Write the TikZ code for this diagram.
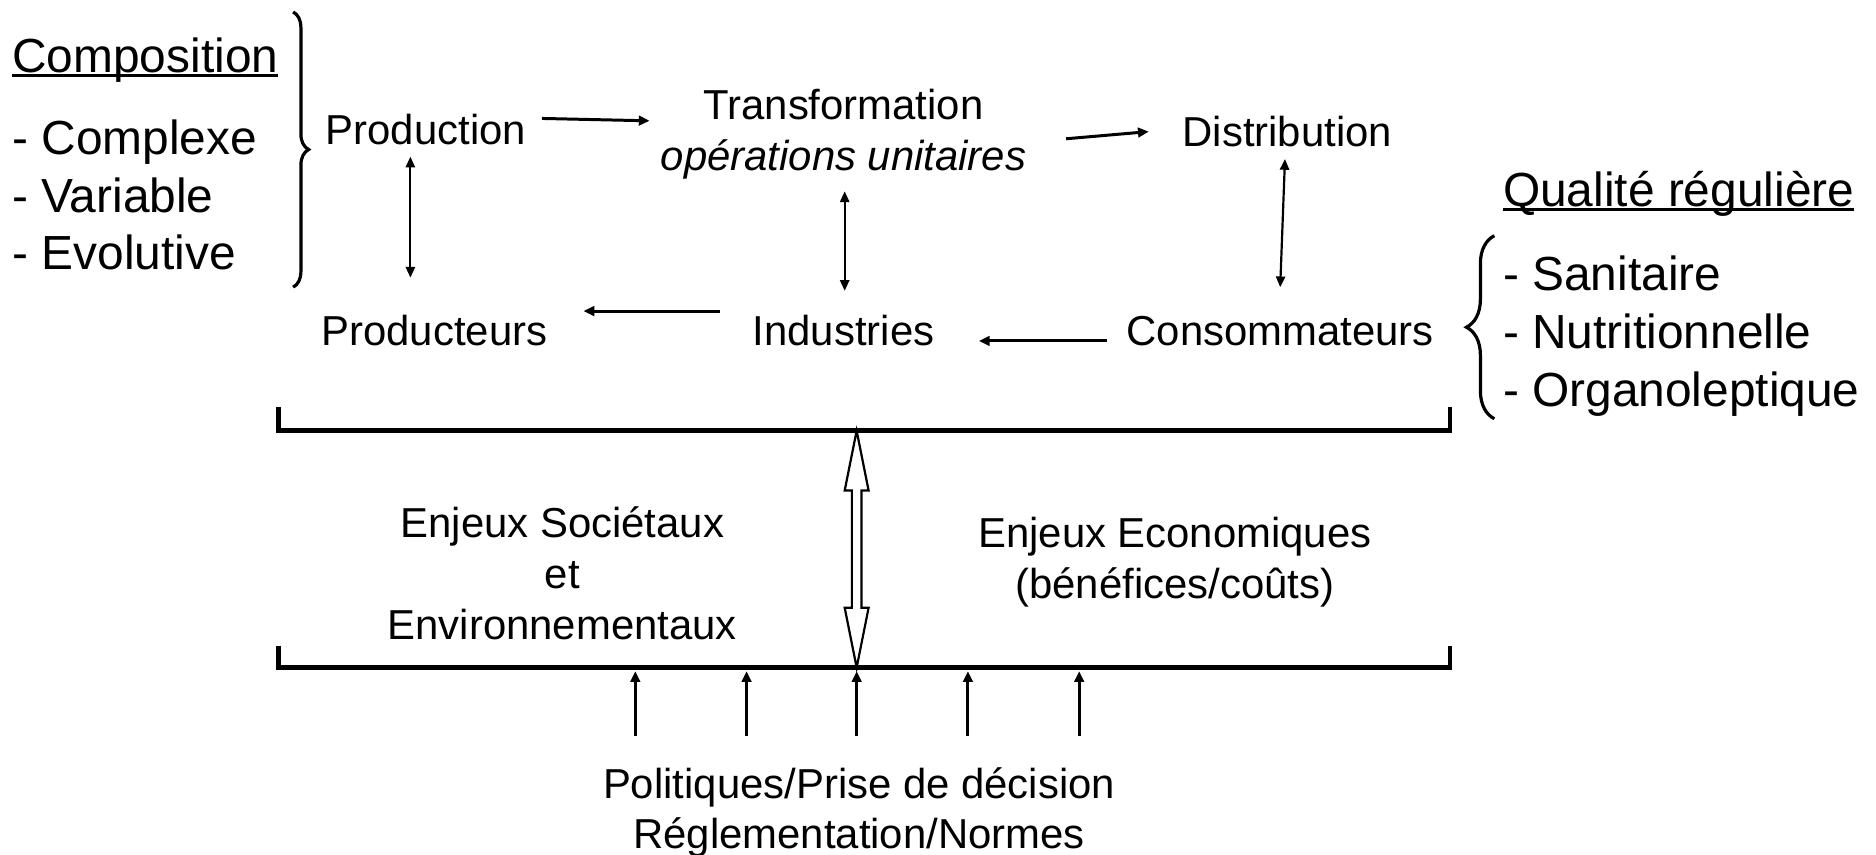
\documentclass[tikz,border=0pt]{standalone}
\usepackage{fontspec}
\setmainfont{Liberation Sans}
\usetikzlibrary{positioning,arrows.meta,calc,decorations.pathreplacing}

\newsavebox\soulbox
\newcommand{\souligne}[1]{\sbox\soulbox{#1}\rlap{\rule[-0.1em]{\wd\soulbox}{0.06em}}\usebox\soulbox}

\begin{document}
\begin{tikzpicture}[x=0.6pt, y=-0.6pt,
        lbl/.style={font=\fontsize{21}{25.5}\selectfont, inner sep=0pt, text height=15.1pt, text depth=0pt},
        bloc/.style={font=\fontsize{21}{25.5}\selectfont, inner sep=0pt, align=center},
        titre/.style={font=\fontsize{24}{29}\selectfont, inner sep=0pt, text height=17.3pt, text depth=0pt, anchor=west},
        liste/.style={font=\fontsize{24}{29}\selectfont, inner sep=0pt, align=left, anchor=west},
        flow/.style={-{Triangle[length=5.4pt,width=4.8pt]}, line width=1.5pt},
        both/.style={{Triangle[length=5.4pt,width=4.6pt]}-{Triangle[length=5.4pt,width=4.6pt]}, line width=1.1pt},
        bar/.style={line width=2.4pt},
        accolade/.style={decorate, line width=1.6pt}
    ]
    \useasboundingbox (0,0) rectangle (1568,714);

    % left and right lists
    \node[titre] (composition) at (10,46) {\souligne{Composition}};
    \node[liste] (composants) at (10,163) {- Complexe\\- Variable\\- Evolutive};
    \node[titre] (qualite) at (1256,158) {\souligne{Qualité régulière}};
    \node[liste] (criteres) at (1256,281) {- Sanitaire\\- Nutritionnelle\\- Organoleptique};

    % chain
    \node[lbl] (production) at (356,108) {Production};
    \node[bloc] (transformation) at (705,112) {Transformation\\\textit{opérations unitaires}};
    \node[lbl] (distribution) at (1076,110) {Distribution};
    \node[lbl] (producteurs) at (363,276) {Producteurs};
    \node[lbl] (industries) at (705,276) {Industries};
    \node[lbl] (consommateurs) at (1070,276) {Consommateurs};

    \node[bloc] (societe) at (470,479) {Enjeux Sociétaux\\et\\Environnementaux};
    \node[bloc] (economie) at (982,470) {Enjeux Economiques\\(bénéfices/coûts)};
    \node[bloc] (politiques) at (718,679) {Politiques/Prise de décision\\Réglementation/Normes};

    \draw[flow] ($(production.east)+(13,-9)$) -- ($(transformation.west)+(-9,-11)$);
    \draw[flow] ($(transformation.east)+(33,4)$) -- ($(distribution.west)+(-28,0)$);
    \draw[flow] ($(industries.west)+(-27,-16)$) -- ($(producteurs.east)+(30,-16)$);
    \draw[flow] ($(consommateurs.west)+(-16,9)$) -- ($(industries.east)+(37,9)$);

    \draw[both] ($(production.south)+(-13,10)$) -- ($(producteurs.north)+(-20,-31)$);
    \draw[both] ($(transformation.south)+(1,10)$) -- ($(industries.north)+(1,-20)$);
    \draw[both] ($(distribution.south)+(-2,10)$) -- ($(consommateurs.north)+(0,-23)$);

    \draw[accolade, decoration={brace, amplitude=7.8pt}] (245,10) -- (245,240);
    \draw[accolade, decoration={brace, amplitude=14pt}] (1249,350) -- (1249,197);

    % enjeux
    \coordinate (haut) at (716,360);
    \coordinate (bas) at (716,558);
    \draw[line width=1.1pt, fill=white] (haut) -- ++(10,50) -- ++(-6,0) -- ++(0,98) -- ++(6,0)
        -- (bas) -- ++(-10,-50) -- ++(6,0) -- ++(0,-98) -- ++(-6,0) -- cycle;
    \draw[bar] (233,340) -- (233,360) -- (1212,360) -- (1212,340);
    \draw[bar] (233,540) -- (233,558) -- (1212,558) -- (1212,540);

    \foreach \x in {531,624,716,809,902}
        \draw[flow] (\x,615) -- (\x,561);
\end{tikzpicture}
\end{document}
